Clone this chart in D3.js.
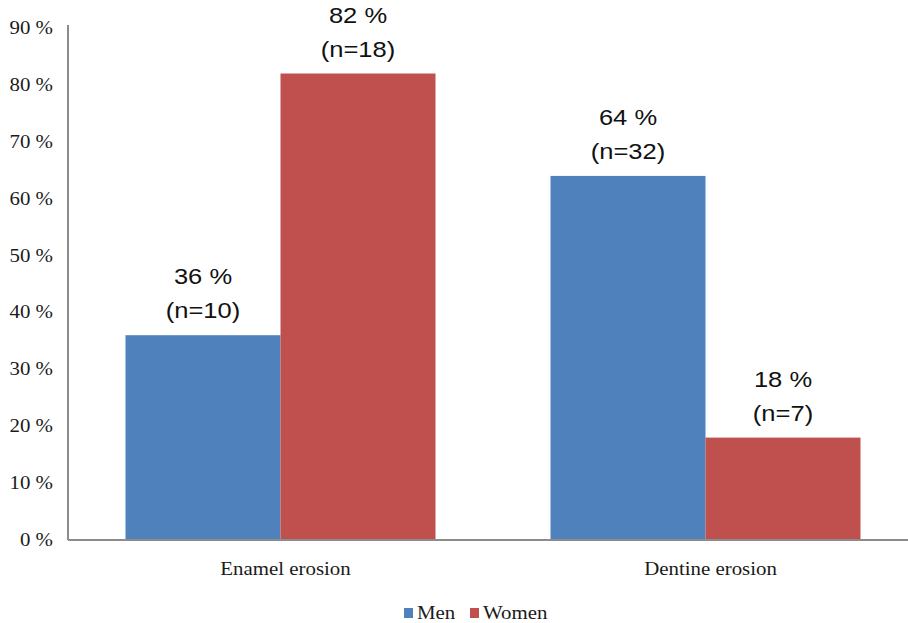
<!DOCTYPE html>
<html>
<head>
<meta charset="utf-8">
<script src="https://cdn.jsdelivr.net/npm/d3@7"></script>
<style>
  body { margin: 0; background: #fff; }
</style>
</head>
<body>
<svg width="908" height="623"></svg>
<script>
const categories = ['Enamel erosion', 'Dentine erosion']
const seriesNames = ['Men', 'Women']
const men = [36, 64]
const women = [82, 18]
const menN = [10, 32]
const womenN = [18, 7]
const yTicks = [0, 10, 20, 30, 40, 50, 60, 70, 80, 90]
const colors = ['#4F81BD', '#C0504D']

const serifFont = "'Liberation Serif'"
const sansFont = "'Liberation Sans'"

const svg = d3.select('svg')
const plotLeft = 68, plotRight = 918, plotTop = 28, plotBottom = 540
const stretch = 1.16 // text in the original is a bit wide

const x = d3.scaleBand().domain(categories).range([plotLeft, plotRight])
const inner = d3.scaleBand().domain(seriesNames).range([0, x.bandwidth()]).paddingInner(0).paddingOuter(0.371)
const y = d3.scaleLinear().domain([0, 90]).range([plotBottom, plotTop])

function place(sel, fx, fy){
  sel.attr('transform', (d, i) => `translate(${fx(d, i)},${fy(d, i)}) scale(${stretch},1)`)
}
function serif(sel){
  sel.style('font-family', serifFont).style('font-size', '18px').style('fill', '#1a1a1a')
}
function sans(sel){
  sel.style('font-family', sansFont).style('font-size', '22px').style('fill', '#111')
}

// y tick labels
svg.append('g').selectAll('text')
  .data(yTicks)
  .enter().append('text')
  .call(serif)
  .attr('text-anchor', 'end')
  .call(place, d => plotLeft - 15, d => y(d) + 6)
  .text(d => d + ' %')

// bars
const rows = []
categories.forEach((c, i) => {
  rows.push({cat: c, s: 'Men', v: men[i], n: menN[i]})
  rows.push({cat: c, s: 'Women', v: women[i], n: womenN[i]})
})

svg.append('g').selectAll('rect')
  .data(rows)
  .enter().append('rect')
  .attr('x', d => x(d.cat) + inner(d.s))
  .attr('y', d => y(d.v))
  .attr('width', inner.bandwidth())
  .attr('height', d => y(0) - y(d.v))
  .style('fill', d => colors[seriesNames.indexOf(d.s)])

// value labels
const cx = d => x(d.cat) + inner(d.s) + inner.bandwidth() / 2
const lab = svg.append('g')
lab.selectAll('.pct')
  .data(rows)
  .enter().append('text')
  .attr('class', 'pct')
  .call(sans)
  .attr('text-anchor', 'middle')
  .call(place, cx, d => y(d.v) - 51)
  .text(d => d.v + ' %')
lab.selectAll('.n')
  .data(rows)
  .enter().append('text')
  .attr('class', 'n')
  .call(sans)
  .attr('text-anchor', 'middle')
  .call(place, cx, d => y(d.v) - 17)
  .text(d => '(n=' + d.n + ')')

// axes lines
svg.append('line')
  .attr('x1', plotLeft).attr('x2', plotLeft)
  .attr('y1', y(90) - 3).attr('y2', y(0))
  .style('stroke', '#8c8c8c').style('stroke-width', 2)
svg.append('line')
  .attr('x1', plotLeft).attr('x2', plotRight)
  .attr('y1', y(0)).attr('y2', y(0))
  .style('stroke', '#8c8c8c').style('stroke-width', 2)

// category labels
svg.append('g').selectAll('text')
  .data(categories)
  .enter().append('text')
  .call(serif)
  .attr('text-anchor', 'middle')
  .call(place, d => x(d) + x.bandwidth() / 2 + 5, d => 575)
  .text(d => d)

// legend
const legendX = [404, 470]
const leg = svg.append('g').selectAll('g')
  .data(seriesNames)
  .enter().append('g')
  .attr('transform', (d, i) => `translate(${legendX[i]},${619})`)
leg.append('rect')
  .attr('x', 0).attr('y', -11)
  .attr('width', 9).attr('height', 10)
  .style('fill', (d, i) => colors[i])
leg.append('text')
  .call(serif)
  .attr('transform', `translate(13,0) scale(${stretch},1)`)
  .text(d => d)
</script>
</body>
</html>
